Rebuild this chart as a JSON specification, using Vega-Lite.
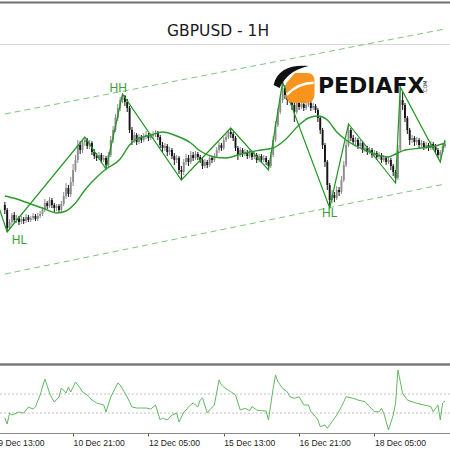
{
"$schema": "https://vega.github.io/schema/vega-lite/v6.json",
"width": 450, "height": 450, "autosize": "none", "padding": 0, "background": "#ffffff",
"config": {"view": {"stroke": null}},
"datasets": {
"frame": [{"p":1.35425}],
"channel": [{"line":"u","i":3,"p":1.3431},{"line":"u","i":190,"p":1.3516},{"line":"l","i":3,"p":1.3271},{"line":"l","i":190,"p":1.3361}],
"candles": [
{"i":3,"o":1.3340,"h":1.3343,"l":1.3331,"c":1.3335},{"i":4,"o":1.3335,"h":1.3337,"l":1.3313,"c":1.3317},{"i":5,"o":1.3317,"h":1.3326,"l":1.3315,"c":1.3323},{"i":6,"o":1.3323,"h":1.3332,"l":1.3320,"c":1.3330},{"i":7,"o":1.3330,"h":1.3333,"l":1.3322,"c":1.3325},{"i":8,"o":1.3325,"h":1.3330,"l":1.3322,"c":1.3327},{"i":9,"o":1.3327,"h":1.3329,"l":1.3320,"c":1.3323},{"i":10,"o":1.3323,"h":1.3329,"l":1.3321,"c":1.3326},{"i":11,"o":1.3326,"h":1.3328,"l":1.3321,"c":1.3324},{"i":12,"o":1.3324,"h":1.3331,"l":1.3322,"c":1.3328},
{"i":13,"o":1.3328,"h":1.3330,"l":1.3323,"c":1.3325},{"i":14,"o":1.3325,"h":1.3329,"l":1.3323,"c":1.3327},{"i":15,"o":1.3327,"h":1.3332,"l":1.3325,"c":1.3329},{"i":16,"o":1.3329,"h":1.3331,"l":1.3324,"c":1.3326},{"i":17,"o":1.3326,"h":1.3332,"l":1.3324,"c":1.3329},{"i":18,"o":1.3329,"h":1.3334,"l":1.3327,"c":1.3331},{"i":19,"o":1.3331,"h":1.3338,"l":1.3329,"c":1.3335},{"i":20,"o":1.3335,"h":1.3346,"l":1.3333,"c":1.3342},{"i":21,"o":1.3342,"h":1.3344,"l":1.3336,"c":1.3339},{"i":22,"o":1.3339,"h":1.3348,"l":1.3337,"c":1.3345},
{"i":23,"o":1.3345,"h":1.3347,"l":1.3337,"c":1.3340},{"i":24,"o":1.3340,"h":1.3342,"l":1.3333,"c":1.3337},{"i":25,"o":1.3337,"h":1.3341,"l":1.3334,"c":1.3339},{"i":26,"o":1.3339,"h":1.3341,"l":1.3332,"c":1.3335},{"i":27,"o":1.3335,"h":1.3344,"l":1.3333,"c":1.3341},{"i":28,"o":1.3341,"h":1.3353,"l":1.3339,"c":1.3349},{"i":29,"o":1.3349,"h":1.3362,"l":1.3346,"c":1.3357},{"i":30,"o":1.3357,"h":1.3360,"l":1.3348,"c":1.3351},{"i":31,"o":1.3351,"h":1.3368,"l":1.3348,"c":1.3363},{"i":32,"o":1.3363,"h":1.3381,"l":1.3359,"c":1.3375},
{"i":33,"o":1.3375,"h":1.3390,"l":1.3373,"c":1.3385},{"i":34,"o":1.3385,"h":1.3405,"l":1.3382,"c":1.3400},{"i":35,"o":1.3400,"h":1.3404,"l":1.3391,"c":1.3395},{"i":36,"o":1.3395,"h":1.3406,"l":1.3392,"c":1.3403},{"i":37,"o":1.3403,"h":1.3408,"l":1.3399,"c":1.3405},{"i":38,"o":1.3405,"h":1.3407,"l":1.3396,"c":1.3399},{"i":39,"o":1.3399,"h":1.3405,"l":1.3396,"c":1.3402},{"i":40,"o":1.3402,"h":1.3404,"l":1.3390,"c":1.3393},{"i":41,"o":1.3393,"h":1.3396,"l":1.3386,"c":1.3389},{"i":42,"o":1.3389,"h":1.3392,"l":1.3384,"c":1.3387},
{"i":43,"o":1.3387,"h":1.3393,"l":1.3385,"c":1.3390},{"i":44,"o":1.3390,"h":1.3392,"l":1.3382,"c":1.3385},{"i":45,"o":1.3385,"h":1.3390,"l":1.3383,"c":1.3387},{"i":46,"o":1.3387,"h":1.3389,"l":1.3376,"c":1.3380},{"i":47,"o":1.3380,"h":1.3393,"l":1.3378,"c":1.3390},{"i":48,"o":1.3390,"h":1.3409,"l":1.3388,"c":1.3405},{"i":49,"o":1.3405,"h":1.3419,"l":1.3402,"c":1.3415},{"i":50,"o":1.3415,"h":1.3431,"l":1.3413,"c":1.3427},{"i":51,"o":1.3427,"h":1.3441,"l":1.3424,"c":1.3437},{"i":52,"o":1.3437,"h":1.3448,"l":1.3434,"c":1.3445},
{"i":53,"o":1.3445,"h":1.3451,"l":1.3442,"c":1.3449},{"i":54,"o":1.3449,"h":1.3450,"l":1.3439,"c":1.3443},{"i":55,"o":1.3443,"h":1.3446,"l":1.3433,"c":1.3437},{"i":56,"o":1.3437,"h":1.3439,"l":1.3412,"c":1.3415},{"i":57,"o":1.3415,"h":1.3418,"l":1.3400,"c":1.3405},{"i":58,"o":1.3405,"h":1.3413,"l":1.3402,"c":1.3410},{"i":59,"o":1.3410,"h":1.3412,"l":1.3400,"c":1.3403},{"i":60,"o":1.3403,"h":1.3411,"l":1.3401,"c":1.3408},{"i":61,"o":1.3408,"h":1.3410,"l":1.3402,"c":1.3405},{"i":62,"o":1.3405,"h":1.3412,"l":1.3403,"c":1.3409},
{"i":63,"o":1.3409,"h":1.3414,"l":1.3406,"c":1.3410},{"i":64,"o":1.3410,"h":1.3412,"l":1.3404,"c":1.3407},{"i":65,"o":1.3407,"h":1.3412,"l":1.3405,"c":1.3409},{"i":66,"o":1.3409,"h":1.3414,"l":1.3406,"c":1.3411},{"i":67,"o":1.3411,"h":1.3415,"l":1.3408,"c":1.3412},{"i":68,"o":1.3412,"h":1.3414,"l":1.3405,"c":1.3408},{"i":69,"o":1.3408,"h":1.3410,"l":1.3397,"c":1.3400},{"i":70,"o":1.3400,"h":1.3403,"l":1.3393,"c":1.3397},{"i":71,"o":1.3397,"h":1.3402,"l":1.3394,"c":1.3399},{"i":72,"o":1.3399,"h":1.3401,"l":1.3389,"c":1.3393},
{"i":73,"o":1.3393,"h":1.3398,"l":1.3390,"c":1.3395},{"i":74,"o":1.3395,"h":1.3397,"l":1.3386,"c":1.3389},{"i":75,"o":1.3389,"h":1.3392,"l":1.3380,"c":1.3385},{"i":76,"o":1.3385,"h":1.3390,"l":1.3382,"c":1.3387},{"i":77,"o":1.3387,"h":1.3389,"l":1.3371,"c":1.3375},{"i":78,"o":1.3375,"h":1.3379,"l":1.3365,"c":1.3373},{"i":79,"o":1.3373,"h":1.3386,"l":1.3370,"c":1.3383},{"i":80,"o":1.3383,"h":1.3391,"l":1.3380,"c":1.3387},{"i":81,"o":1.3387,"h":1.3390,"l":1.3379,"c":1.3383},{"i":82,"o":1.3383,"h":1.3394,"l":1.3381,"c":1.3390},
{"i":83,"o":1.3390,"h":1.3393,"l":1.3384,"c":1.3387},{"i":84,"o":1.3387,"h":1.3394,"l":1.3385,"c":1.3391},{"i":85,"o":1.3391,"h":1.3393,"l":1.3385,"c":1.3388},{"i":86,"o":1.3388,"h":1.3390,"l":1.3382,"c":1.3385},{"i":87,"o":1.3385,"h":1.3387,"l":1.3376,"c":1.3379},{"i":88,"o":1.3379,"h":1.3386,"l":1.3377,"c":1.3383},{"i":89,"o":1.3383,"h":1.3385,"l":1.3377,"c":1.3380},{"i":90,"o":1.3380,"h":1.3390,"l":1.3378,"c":1.3387},{"i":91,"o":1.3387,"h":1.3389,"l":1.3382,"c":1.3385},{"i":92,"o":1.3385,"h":1.3392,"l":1.3383,"c":1.3389},
{"i":93,"o":1.3389,"h":1.3398,"l":1.3387,"c":1.3395},{"i":94,"o":1.3395,"h":1.3403,"l":1.3392,"c":1.3400},{"i":95,"o":1.3400,"h":1.3402,"l":1.3394,"c":1.3397},{"i":96,"o":1.3397,"h":1.3408,"l":1.3395,"c":1.3405},{"i":97,"o":1.3405,"h":1.3411,"l":1.3403,"c":1.3408},{"i":98,"o":1.3408,"h":1.3415,"l":1.3406,"c":1.3413},{"i":99,"o":1.3413,"h":1.3417,"l":1.3407,"c":1.3411},{"i":100,"o":1.3411,"h":1.3413,"l":1.3404,"c":1.3407},{"i":101,"o":1.3407,"h":1.3409,"l":1.3394,"c":1.3397},{"i":102,"o":1.3397,"h":1.3399,"l":1.3385,"c":1.3390},
{"i":103,"o":1.3390,"h":1.3398,"l":1.3388,"c":1.3395},{"i":104,"o":1.3395,"h":1.3397,"l":1.3388,"c":1.3391},{"i":105,"o":1.3391,"h":1.3396,"l":1.3389,"c":1.3393},{"i":106,"o":1.3393,"h":1.3395,"l":1.3386,"c":1.3389},{"i":107,"o":1.3389,"h":1.3395,"l":1.3387,"c":1.3392},{"i":108,"o":1.3392,"h":1.3394,"l":1.3385,"c":1.3388},{"i":109,"o":1.3388,"h":1.3394,"l":1.3386,"c":1.3390},{"i":110,"o":1.3390,"h":1.3392,"l":1.3382,"c":1.3385},{"i":111,"o":1.3385,"h":1.3391,"l":1.3383,"c":1.3389},{"i":112,"o":1.3389,"h":1.3391,"l":1.3382,"c":1.3385},
{"i":113,"o":1.3385,"h":1.3390,"l":1.3383,"c":1.3387},{"i":114,"o":1.3387,"h":1.3389,"l":1.3380,"c":1.3383},{"i":115,"o":1.3383,"h":1.3385,"l":1.3375,"c":1.3379},{"i":116,"o":1.3379,"h":1.3393,"l":1.3377,"c":1.3390},{"i":117,"o":1.3390,"h":1.3409,"l":1.3388,"c":1.3405},{"i":118,"o":1.3405,"h":1.3424,"l":1.3403,"c":1.3420},{"i":119,"o":1.3420,"h":1.3437,"l":1.3418,"c":1.3433},{"i":120,"o":1.3433,"h":1.3450,"l":1.3431,"c":1.3445},{"i":121,"o":1.3445,"h":1.3463,"l":1.3442,"c":1.3457},{"i":122,"o":1.3457,"h":1.3460,"l":1.3446,"c":1.3450},
{"i":123,"o":1.3450,"h":1.3453,"l":1.3440,"c":1.3445},{"i":124,"o":1.3445,"h":1.3452,"l":1.3442,"c":1.3449},{"i":125,"o":1.3449,"h":1.3451,"l":1.3435,"c":1.3440},{"i":126,"o":1.3440,"h":1.3442,"l":1.3423,"c":1.3433},{"i":127,"o":1.3433,"h":1.3446,"l":1.3431,"c":1.3443},{"i":128,"o":1.3443,"h":1.3445,"l":1.3435,"c":1.3438},{"i":129,"o":1.3438,"h":1.3444,"l":1.3436,"c":1.3441},{"i":130,"o":1.3441,"h":1.3443,"l":1.3434,"c":1.3437},{"i":131,"o":1.3437,"h":1.3443,"l":1.3435,"c":1.3440},{"i":132,"o":1.3440,"h":1.3445,"l":1.3438,"c":1.3442},
{"i":133,"o":1.3442,"h":1.3444,"l":1.3434,"c":1.3437},{"i":134,"o":1.3437,"h":1.3442,"l":1.3435,"c":1.3439},{"i":135,"o":1.3439,"h":1.3441,"l":1.3432,"c":1.3435},{"i":136,"o":1.3435,"h":1.3437,"l":1.3423,"c":1.3427},{"i":137,"o":1.3427,"h":1.3429,"l":1.3411,"c":1.3415},{"i":138,"o":1.3415,"h":1.3417,"l":1.3396,"c":1.3400},{"i":139,"o":1.3400,"h":1.3402,"l":1.3378,"c":1.3383},{"i":140,"o":1.3383,"h":1.3385,"l":1.3355,"c":1.3360},{"i":141,"o":1.3360,"h":1.3362,"l":1.3337,"c":1.3345},{"i":142,"o":1.3345,"h":1.3355,"l":1.3342,"c":1.3350},
{"i":143,"o":1.3350,"h":1.3353,"l":1.3343,"c":1.3347},{"i":144,"o":1.3347,"h":1.3359,"l":1.3345,"c":1.3355},{"i":145,"o":1.3355,"h":1.3358,"l":1.3349,"c":1.3353},{"i":146,"o":1.3353,"h":1.3369,"l":1.3351,"c":1.3365},{"i":147,"o":1.3365,"h":1.3384,"l":1.3363,"c":1.3380},{"i":148,"o":1.3380,"h":1.3404,"l":1.3378,"c":1.3400},{"i":149,"o":1.3400,"h":1.3421,"l":1.3398,"c":1.3415},{"i":150,"o":1.3415,"h":1.3417,"l":1.3404,"c":1.3407},{"i":151,"o":1.3407,"h":1.3410,"l":1.3400,"c":1.3403},{"i":152,"o":1.3403,"h":1.3408,"l":1.3400,"c":1.3405},
{"i":153,"o":1.3405,"h":1.3407,"l":1.3396,"c":1.3399},{"i":154,"o":1.3399,"h":1.3405,"l":1.3397,"c":1.3402},{"i":155,"o":1.3402,"h":1.3404,"l":1.3392,"c":1.3395},{"i":156,"o":1.3395,"h":1.3400,"l":1.3393,"c":1.3397},{"i":157,"o":1.3397,"h":1.3399,"l":1.3390,"c":1.3393},{"i":158,"o":1.3393,"h":1.3398,"l":1.3391,"c":1.3395},{"i":159,"o":1.3395,"h":1.3397,"l":1.3387,"c":1.3390},{"i":160,"o":1.3390,"h":1.3395,"l":1.3388,"c":1.3392},{"i":161,"o":1.3392,"h":1.3394,"l":1.3385,"c":1.3388},{"i":162,"o":1.3388,"h":1.3393,"l":1.3386,"c":1.3390},
{"i":163,"o":1.3390,"h":1.3392,"l":1.3382,"c":1.3385},{"i":164,"o":1.3385,"h":1.3390,"l":1.3383,"c":1.3387},{"i":165,"o":1.3387,"h":1.3389,"l":1.3380,"c":1.3383},{"i":166,"o":1.3383,"h":1.3388,"l":1.3381,"c":1.3385},{"i":167,"o":1.3385,"h":1.3387,"l":1.3375,"c":1.3379},{"i":168,"o":1.3379,"h":1.3381,"l":1.3369,"c":1.3373},{"i":169,"o":1.3373,"h":1.3375,"l":1.3362,"c":1.3367},{"i":170,"o":1.3367,"h":1.3400,"l":1.3365,"c":1.3395},{"i":171,"o":1.3395,"h":1.3458,"l":1.3393,"c":1.3445},{"i":172,"o":1.3445,"h":1.3453,"l":1.3435,"c":1.3440},
{"i":173,"o":1.3440,"h":1.3442,"l":1.3423,"c":1.3427},{"i":174,"o":1.3427,"h":1.3429,"l":1.3411,"c":1.3415},{"i":175,"o":1.3415,"h":1.3417,"l":1.3400,"c":1.3405},{"i":176,"o":1.3405,"h":1.3410,"l":1.3402,"c":1.3407},{"i":177,"o":1.3407,"h":1.3409,"l":1.3399,"c":1.3403},{"i":178,"o":1.3403,"h":1.3408,"l":1.3400,"c":1.3405},{"i":179,"o":1.3405,"h":1.3407,"l":1.3397,"c":1.3400},{"i":180,"o":1.3400,"h":1.3405,"l":1.3398,"c":1.3402},{"i":181,"o":1.3402,"h":1.3404,"l":1.3395,"c":1.3398},{"i":182,"o":1.3398,"h":1.3403,"l":1.3396,"c":1.3400},
{"i":183,"o":1.3400,"h":1.3402,"l":1.3394,"c":1.3397},{"i":184,"o":1.3397,"h":1.3404,"l":1.3395,"c":1.3401},{"i":185,"o":1.3401,"h":1.3403,"l":1.3395,"c":1.3398},{"i":186,"o":1.3398,"h":1.3401,"l":1.3392,"c":1.3395},{"i":187,"o":1.3395,"h":1.3397,"l":1.3387,"c":1.3390},{"i":188,"o":1.3390,"h":1.3395,"l":1.3383,"c":1.3393},{"i":189,"o":1.3393,"h":1.3402,"l":1.3391,"c":1.3399},{"i":190,"o":1.3399,"h":1.3404,"l":1.3397,"c":1.3401}
],
"zigzag": [{"i":-2,"p":1.3355},{"i":4,"p":1.3313},{"i":37,"p":1.3408},{"i":46,"p":1.3376},{"i":53,"p":1.3451},{"i":78,"p":1.3365},{"i":99,"p":1.3417},{"i":115,"p":1.3375},{"i":121,"p":1.3463},{"i":141,"p":1.3337},{"i":149,"p":1.3421},{"i":169,"p":1.3362},{"i":171,"p":1.3458},{"i":188,"p":1.3383},{"i":190,"p":1.3405}],
"ma": [{"i":3,"p":1.3349},{"i":8,"p":1.3346},{"i":14,"p":1.3341},{"i":20,"p":1.3336},{"i":25,"p":1.3332},{"i":29,"p":1.3334},{"i":33,"p":1.3342},{"i":37,"p":1.3355},{"i":43,"p":1.3370},{"i":46,"p":1.3376},{"i":52,"p":1.3386},{"i":56,"p":1.3400},{"i":59,"p":1.3406},{"i":65,"p":1.3410},{"i":70,"p":1.3413},{"i":76,"p":1.3409},{"i":82,"p":1.3402},{"i":86,"p":1.3394},{"i":92,"p":1.3388},{"i":97,"p":1.3387},{"i":102,"p":1.3390},{"i":107,"p":1.3393},{"i":112,"p":1.3395},{"i":117,"p":1.3397},{"i":122,"p":1.3405},{"i":128,"p":1.3420},{"i":132,"p":1.3427},{"i":136,"p":1.3429},{"i":140,"p":1.3425},{"i":144,"p":1.3413},{"i":148,"p":1.3405},{"i":153,"p":1.3398},{"i":159,"p":1.3392},{"i":166,"p":1.3388},{"i":169,"p":1.3391},{"i":173,"p":1.3395},{"i":180,"p":1.3397},{"i":186,"p":1.3399},{"i":190,"p":1.3402}],
"labels": [{"i":51.2,"p":1.3457,"t":"HH"},{"i":9.2,"p":1.3305,"t":"HL"},{"i":141,"p":1.3332,"t":"HL"}],
"logo": [{"i":128.5,"p":1.3457,"i2":124.4,"p2":1.3467,"i3":136,"p3":1.3452,"i4":181.7,"p4":1.3458,"name":"PEDIAFX","dom":".COM"}],
"title": [{"i":93.6,"p":1.3514,"t":"GBPUSD - 1H"}],
"levels": [{"v":40},{"v":60}],
"ind": [{"i":3,"v":34.8},{"i":4,"v":28.5},{"i":5,"v":40.0},{"i":6,"v":37.9},{"i":8,"v":40.0},{"i":9,"v":41.1},{"i":11,"v":40.0},{"i":12,"v":43.2},{"i":13,"v":46.4},{"i":15,"v":44.2},{"i":16,"v":46.4},{"i":18,"v":59.0},{"i":19,"v":67.4},{"i":20,"v":75.8},{"i":22,"v":61.1},{"i":23,"v":55.8},{"i":24,"v":51.6},{"i":26,"v":56.9},{"i":27,"v":66.3},{"i":29,"v":61.1},{"i":30,"v":67.4},{"i":31,"v":62.1},{"i":33,"v":72.7},{"i":35,"v":66.3},{"i":36,"v":62.1},{"i":38,"v":59.0},{"i":40,"v":53.7},{"i":42,"v":50.6},{"i":45,"v":48.5},{"i":46,"v":41.1},{"i":48,"v":56.9},{"i":51,"v":71.6},{"i":52,"v":69.5},{"i":55,"v":56.9},{"i":57,"v":46.4},{"i":59,"v":45.3},{"i":61,"v":45.3},{"i":63,"v":45.3},{"i":65,"v":44.2},{"i":67,"v":48.5},{"i":69,"v":32.7},{"i":70,"v":34.8},{"i":72,"v":32.7},{"i":74,"v":37.9},{"i":76,"v":40.0},{"i":77,"v":30.6},{"i":79,"v":41.1},{"i":80,"v":43.2},{"i":81,"v":46.4},{"i":83,"v":50.6},{"i":85,"v":46.4},{"i":86,"v":53.7},{"i":87,"v":55.8},{"i":89,"v":40.0},{"i":90,"v":43.2},{"i":92,"v":48.5},{"i":94,"v":74.8},{"i":95,"v":69.5},{"i":96,"v":67.4},{"i":99,"v":62.4},{"i":101,"v":59.0},{"i":103,"v":43.2},{"i":105,"v":45.0},{"i":107,"v":42.5},{"i":108,"v":46.7},{"i":110,"v":43.2},{"i":112,"v":42.5},{"i":114,"v":42.1},{"i":115,"v":32.7},{"i":117,"v":66.0},{"i":118,"v":80.0},{"i":119,"v":73.0},{"i":121,"v":66.0},{"i":123,"v":62.4},{"i":124,"v":57.2},{"i":126,"v":55.5},{"i":128,"v":57.2},{"i":130,"v":48.5},{"i":132,"v":48.5},{"i":133,"v":41.4},{"i":135,"v":36.1},{"i":136,"v":32.7},{"i":137,"v":25.6},{"i":139,"v":27.4},{"i":140,"v":23.9},{"i":142,"v":30.9},{"i":144,"v":37.9},{"i":146,"v":46.7},{"i":148,"v":57.2},{"i":151,"v":55.5},{"i":153,"v":53.7},{"i":156,"v":51.9},{"i":158,"v":46.7},{"i":160,"v":41.4},{"i":162,"v":41.4},{"i":163,"v":45.0},{"i":164,"v":39.7},{"i":166,"v":22.2},{"i":168,"v":37.9},{"i":169,"v":50.2},{"i":170,"v":85.3},{"i":172,"v":60.8},{"i":174,"v":53.7},{"i":176,"v":51.9},{"i":178,"v":50.2},{"i":181,"v":48.5},{"i":184,"v":46.7},{"i":185,"v":41.4},{"i":187,"v":48.5},{"i":188,"v":32.7},{"i":189,"v":50.6},{"i":190,"v":52.7}]
},
"resolve": {"scale": {"y": "independent"}, "axis": {"x": "independent", "y": "independent"}},
"layer": [
{"data": {"name": "frame"}, "mark": {"type": "rule", "color": "#6e6e6e", "strokeWidth": 2},
 "encoding": {
  "y": {"field": "p", "type": "quantitative", "scale": {"domain": [1.3181, 1.35], "range": [364, 45], "nice": false, "zero": false}, "axis": null}}},
{"data": {"name": "channel"}, "mark": {"type": "line", "color": "#7cc87c", "strokeWidth": 1, "strokeDash": [6, 4]},
 "encoding": {
  "x": {"field": "i", "type": "quantitative", "scale": {"domain": [0, 190], "range": [-7.218, 450], "nice": false, "zero": false}, "axis": null},
  "y": {"field": "p", "type": "quantitative", "scale": {"domain": [1.3181, 1.35], "range": [364, 45], "nice": false, "zero": false}, "axis": null},
  "detail": {"field": "line"}}},
{"data": {"name": "candles"}, "mark": {"type": "rule", "strokeWidth": 1},
 "encoding": {
  "x": {"field": "i", "type": "quantitative", "scale": {"domain": [0, 190], "range": [-7.218, 450], "nice": false, "zero": false}, "axis": {"orient": "top", "offset": -44, "domainColor": "#dadada", "domainWidth": 1, "ticks": false, "labels": false, "grid": false, "title": null}},
  "y": {"field": "h", "type": "quantitative", "scale": {"domain": [1.3181, 1.35], "range": [364, 45], "nice": false, "zero": false}, "axis": null},
  "y2": {"field": "l"},
  "color": {"condition": {"test": "datum.c >= datum.o", "value": "#8c8c8c"}, "value": "#151515"}}},
{"data": {"name": "candles"}, "mark": {"type": "bar", "width": 1.9},
 "encoding": {
  "x": {"field": "i", "type": "quantitative", "scale": {"domain": [0, 190], "range": [-7.218, 450], "nice": false, "zero": false}, "axis": {"orient": "bottom", "offset": -86, "domainColor": "#7a7a7a", "domainWidth": 2.5, "ticks": false, "labels": false, "grid": false, "title": null}},
  "y": {"field": "o", "type": "quantitative", "scale": {"domain": [1.3181, 1.35], "range": [364, 45], "nice": false, "zero": false}, "axis": null},
  "y2": {"field": "c"},
  "color": {"condition": {"test": "datum.c >= datum.o", "value": "#8c8c8c"}, "value": "#151515"}}},
{"data": {"name": "zigzag"}, "mark": {"type": "line", "color": "#1e961e", "strokeWidth": 1.2, "clip": true},
 "encoding": {
  "x": {"field": "i", "type": "quantitative", "scale": {"domain": [0, 190], "range": [-7.218, 450], "nice": false, "zero": false}, "axis": null},
  "y": {"field": "p", "type": "quantitative", "scale": {"domain": [1.3181, 1.35], "range": [364, 45], "nice": false, "zero": false}, "axis": null}}},
{"data": {"name": "ma"}, "mark": {"type": "line", "color": "#2a9a2a", "strokeWidth": 1.4, "interpolate": "monotone"},
 "encoding": {
  "x": {"field": "i", "type": "quantitative", "scale": {"domain": [0, 190], "range": [-7.218, 450], "nice": false, "zero": false}, "axis": null},
  "y": {"field": "p", "type": "quantitative", "scale": {"domain": [1.3181, 1.35], "range": [364, 45], "nice": false, "zero": false}, "axis": null}}},
{"data": {"name": "labels"}, "mark": {"type": "text", "color": "#3c9e3c", "fontSize": 12, "font": "Liberation Sans", "align": "center", "baseline": "middle"},
 "encoding": {
  "x": {"field": "i", "type": "quantitative", "scale": {"domain": [0, 190], "range": [-7.218, 450], "nice": false, "zero": false}, "axis": null},
  "y": {"field": "p", "type": "quantitative", "scale": {"domain": [1.3181, 1.35], "range": [364, 45], "nice": false, "zero": false}, "axis": null},
  "text": {"field": "t"}}},
{"data": {"name": "logo"}, "mark": {"type": "point", "shape": "M -0.35 -1 L 0.45 -1 Q 0.95 -1 0.95 -0.45 L 0.95 0.4 Q 0.95 1 0.35 1 L -0.4 1 Q -0.95 1 -0.95 0.45 L -0.95 -0.3 Z", "filled": true, "color": "#f7941d", "opacity": 1, "size": 900},
 "encoding": {
  "x": {"field": "i", "type": "quantitative", "scale": {"domain": [0, 190], "range": [-7.218, 450], "nice": false, "zero": false}, "axis": null},
  "y": {"field": "p", "type": "quantitative", "scale": {"domain": [1.3181, 1.35], "range": [364, 45], "nice": false, "zero": false}, "axis": null}}},
{"data": {"name": "logo"}, "mark": {"type": "point", "shape": "M -0.9 0.45 Q -0.1 -0.35 0.9 -0.35", "filled": false, "stroke": "#ffffff", "strokeWidth": 2.5, "opacity": 1, "size": 900},
 "encoding": {
  "x": {"field": "i", "type": "quantitative", "scale": {"domain": [0, 190], "range": [-7.218, 450], "nice": false, "zero": false}, "axis": null},
  "y": {"field": "p", "type": "quantitative", "scale": {"domain": [1.3181, 1.35], "range": [364, 45], "nice": false, "zero": false}, "axis": null}}},
{"data": {"name": "logo"}, "mark": {"type": "point", "shape": "M -1 0.41 C -0.8 -0.5 0 -0.8 1.06 -0.71 C 0.5 -0.55 -0.15 -0.4 -0.65 0.59 Z", "filled": true, "color": "#111111", "opacity": 1, "size": 1156},
 "encoding": {
  "x": {"field": "i2", "type": "quantitative", "scale": {"domain": [0, 190], "range": [-7.218, 450], "nice": false, "zero": false}, "axis": null},
  "y": {"field": "p2", "type": "quantitative", "scale": {"domain": [1.3181, 1.35], "range": [364, 45], "nice": false, "zero": false}, "axis": null}}},
{"data": {"name": "logo"}, "mark": {"type": "text", "font": "DejaVu Sans", "fontWeight": "bold", "fontSize": 22, "align": "left", "baseline": "alphabetic", "color": "#111111"},
 "encoding": {
  "x": {"field": "i3", "type": "quantitative", "scale": {"domain": [0, 190], "range": [-7.218, 450], "nice": false, "zero": false}, "axis": null},
  "y": {"field": "p3", "type": "quantitative", "scale": {"domain": [1.3181, 1.35], "range": [364, 45], "nice": false, "zero": false}, "axis": null},
  "text": {"field": "name"}}},
{"data": {"name": "logo"}, "mark": {"type": "text", "font": "DejaVu Sans", "fontSize": 5, "angle": 270, "align": "center", "baseline": "middle", "color": "#111111"},
 "encoding": {
  "x": {"field": "i4", "type": "quantitative", "scale": {"domain": [0, 190], "range": [-7.218, 450], "nice": false, "zero": false}, "axis": null},
  "y": {"field": "p4", "type": "quantitative", "scale": {"domain": [1.3181, 1.35], "range": [364, 45], "nice": false, "zero": false}, "axis": null},
  "text": {"field": "dom"}}},
{"data": {"name": "levels"}, "mark": {"type": "rule", "color": "#c4c4c4", "strokeWidth": 1, "strokeDash": [2, 2]},
 "encoding": {
  "y": {"field": "v", "type": "quantitative", "scale": {"domain": [19, 89.5], "range": [433, 366], "nice": false, "zero": false}, "axis": null}}},
{"data": {"name": "ind"}, "mark": {"type": "line", "color": "#62b862", "strokeWidth": 1},
 "encoding": {
  "x": {"field": "i", "type": "quantitative", "scale": {"domain": [0, 190], "range": [-7.218, 450], "nice": false, "zero": false},
   "axis": {"orient": "bottom", "offset": -17, "values": [0, 32, 64, 96, 128, 160],
    "labelExpr": "datum.value == 0 ? '9 Dec 13:00' : datum.value == 32 ? '10 Dec 21:00' : datum.value == 64 ? '12 Dec 05:00' : datum.value == 96 ? '15 Dec 13:00' : datum.value == 128 ? '16 Dec 21:00' : '18 Dec 05:00'",
    "domainColor": "#8a8a8a", "domainWidth": 1, "tickColor": "#555555", "tickSize": 3, "labelAlign": "left", "labelBaseline": "top", "labelPadding": 2,
    "labelFont": "Liberation Sans", "labelFontSize": 8.6, "labelColor": "#222222", "labelOverlap": false, "labelBound": false, "labelFlush": false, "grid": false, "title": null}},
  "y": {"field": "v", "type": "quantitative", "scale": {"domain": [19, 89.5], "range": [433, 366], "nice": false, "zero": false}, "axis": null}}},
{"data": {"name": "title"}, "mark": {"type": "text", "fontSize": 15.5, "font": "DejaVu Sans", "align": "center", "baseline": "middle", "color": "#1a1a1a"},
 "encoding": {
  "x": {"field": "i", "type": "quantitative", "scale": {"domain": [0, 190], "range": [-7.218, 450], "nice": false, "zero": false}, "axis": null},
  "y": {"field": "p", "type": "quantitative", "scale": {"domain": [1.3181, 1.35], "range": [364, 45], "nice": false, "zero": false}, "axis": null},
  "text": {"field": "t"}}}
]
}
